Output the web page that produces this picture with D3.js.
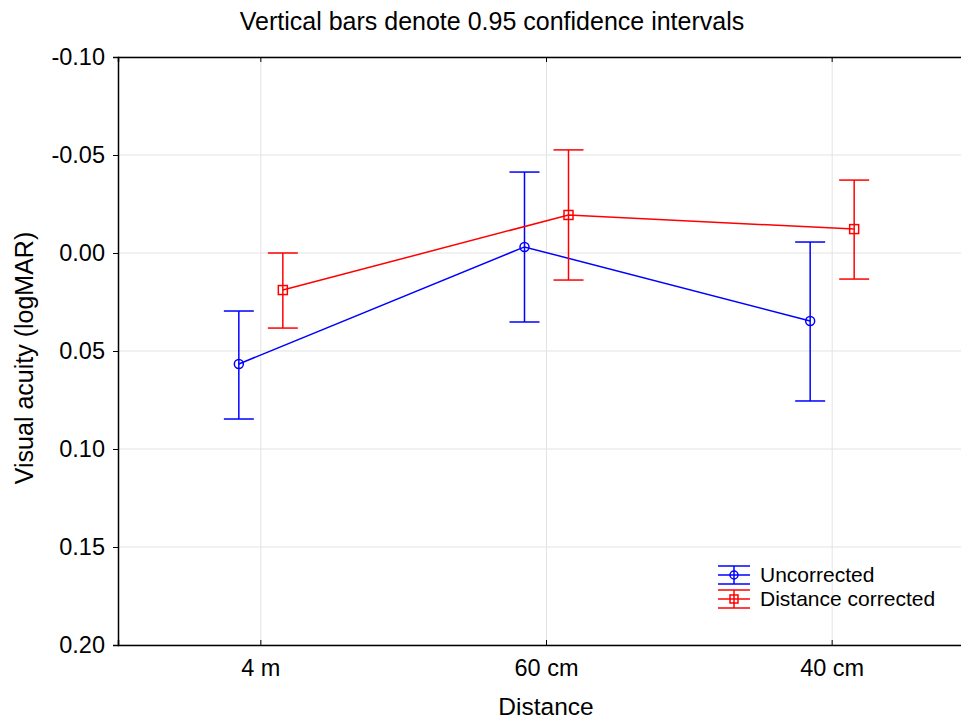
<!DOCTYPE html>
<html><head><meta charset="utf-8">
<script src="https://cdn.jsdelivr.net/npm/d3@7"></script>
<style>body{margin:0;background:#fff}svg{display:block;font-family:"Liberation Sans",Arial,sans-serif}</style>
</head><body>
<script>
const categories = ["4 m", "60 cm", "40 cm"];
const seriesNames = ["Uncorrected", "Distance corrected"];
const uncorrectedMean = [0.0566, -0.0031, 0.0347];
const uncorrectedLow = [0.0296, -0.0413, -0.0056];
const uncorrectedHigh = [0.0847, 0.0352, 0.0755];
const correctedMean = [0.0189, -0.0194, -0.0122];
const correctedLow = [0.0, -0.0526, -0.0372];
const correctedHigh = [0.0383, 0.0138, 0.0133];
const yTicks = [-0.10, -0.05, 0.00, 0.05, 0.10, 0.15, 0.20];
const yTickLabels = ["-0.10", "-0.05", "0.00", "0.05", "0.10", "0.15", "0.20"];

const W = 961, H = 721;
const m = {left:118, top:57, bottom:76};
const plotRight = 975;
const svg = d3.select("body").append("svg").attr("width", W).attr("height", H);

const x = d3.scaleBand().domain(categories).range([m.left, plotRight]);
const y = d3.scaleLinear().domain([-0.10, 0.20]).range([m.top, H - m.bottom]);
const cx = c => x(c) + x.bandwidth()/2;

// grid
svg.append("g").selectAll("line").data(yTicks).join("line")
  .attr("x1", m.left).attr("x2", plotRight).attr("y1", d=>y(d)).attr("y2", d=>y(d))
  .attr("stroke", "#e3e3e3").attr("stroke-width", 1);
svg.append("g").selectAll("line").data(categories).join("line")
  .attr("x1", d=>cx(d)).attr("x2", d=>cx(d)).attr("y1", m.top).attr("y2", H - m.bottom)
  .attr("stroke", "#e3e3e3").attr("stroke-width", 1);

// axes
const yAxis = svg.append("g").attr("transform", `translate(${m.left},0)`)
  .call(d3.axisLeft(y).tickValues(yTicks).tickFormat((d,i)=>yTickLabels[i]).tickSize(5).tickPadding(8));
yAxis.select(".domain").attr("stroke", "#000").attr("stroke-width", 1.5);
yAxis.selectAll("text").attr("font-size", 23.5).attr("fill", "#000").attr("font-family", "Liberation Sans, Arial, sans-serif");

const xAxis = svg.append("g").attr("transform", `translate(0,${H - m.bottom})`)
  .call(d3.axisBottom(x).tickSize(-5).tickPadding(14));
xAxis.select(".domain").attr("stroke", "#000").attr("stroke-width", 1.5);
xAxis.selectAll("text").attr("font-size", 23.5).attr("fill", "#000").attr("font-family", "Liberation Sans, Arial, sans-serif");

const xTop = svg.append("g").attr("transform", `translate(0,${m.top})`)
  .call(d3.axisTop(x).tickSize(-5).tickFormat(""));
xTop.select(".domain").attr("stroke", "#000").attr("stroke-width", 1.5);

// series
const series = [
  {name: seriesNames[0], color: "#0000ff", off: -22, mean: uncorrectedMean, lo: uncorrectedLow, hi: uncorrectedHigh, shape: "circle"},
  {name: seriesNames[1], color: "#ff0000", off: 22, mean: correctedMean, lo: correctedLow, hi: correctedHigh, shape: "square"}
];
const cap = 15;
series.forEach(s => {
  const g = svg.append("g");
  const pts = categories.map((c,i) => ({x: cx(c) + s.off, m: s.mean[i], lo: s.lo[i], hi: s.hi[i]}));
  g.append("path").datum(pts)
    .attr("d", d3.line().x(d=>d.x).y(d=>y(d.m)))
    .attr("fill", "none").attr("stroke", s.color).attr("stroke-width", 1.5);
  pts.forEach(p => {
    g.append("line").attr("x1", p.x).attr("x2", p.x).attr("y1", y(p.lo)).attr("y2", y(p.hi)).attr("stroke", s.color).attr("stroke-width", 1.5);
    [p.lo, p.hi].forEach(v => g.append("line").attr("x1", p.x-cap).attr("x2", p.x+cap).attr("y1", y(v)).attr("y2", y(v)).attr("stroke", s.color).attr("stroke-width", 1.5));
    if (s.shape === "circle") {
      g.append("circle").attr("cx", p.x).attr("cy", y(p.m)).attr("r", 4.5).attr("fill", "none").attr("stroke", s.color).attr("stroke-width", 1.5);
    } else {
      g.append("rect").attr("x", p.x-4.5).attr("y", y(p.m)-4.5).attr("width", 9).attr("height", 9).attr("fill", "none").attr("stroke", s.color).attr("stroke-width", 1.5);
    }
  });
});

// legend
const legY = [575, 599];
series.forEach((s,i) => {
  const g = svg.append("g");
  const lx = 734, ly = legY[i];
  [-9, 0, 9].forEach(dy => g.append("line").attr("x1", lx-16).attr("x2", lx+16).attr("y1", ly+dy).attr("y2", ly+dy).attr("stroke", s.color).attr("stroke-width", 1.5));
  g.append("line").attr("x1", lx).attr("x2", lx).attr("y1", ly-9).attr("y2", ly+9).attr("stroke", s.color).attr("stroke-width", 1.5);
  if (s.shape === "circle") g.append("circle").attr("cx", lx).attr("cy", ly).attr("r", 4).attr("fill", "none").attr("stroke", s.color).attr("stroke-width", 1.5);
  else g.append("rect").attr("x", lx-4).attr("y", ly-4).attr("width", 8).attr("height", 8).attr("fill", "none").attr("stroke", s.color).attr("stroke-width", 1.5);
  g.append("text").attr("x", 760).attr("y", ly).attr("dy", "0.35em").attr("font-size", 21).text(s.name);
});

// titles
svg.append("text").attr("x", 492).attr("y", 21).attr("dy", "0.35em").attr("text-anchor", "middle").attr("font-size", 25).text("Vertical bars denote 0.95 confidence intervals");
svg.append("text").attr("x", 546).attr("y", 715).attr("text-anchor", "middle").attr("font-size", 24.5).text("Distance");
svg.append("text").attr("transform", "translate(24,358) rotate(-90)").attr("dy", "0.35em").attr("text-anchor", "middle").attr("font-size", 25).text("Visual acuity (logMAR)");
</script>
</body></html>
